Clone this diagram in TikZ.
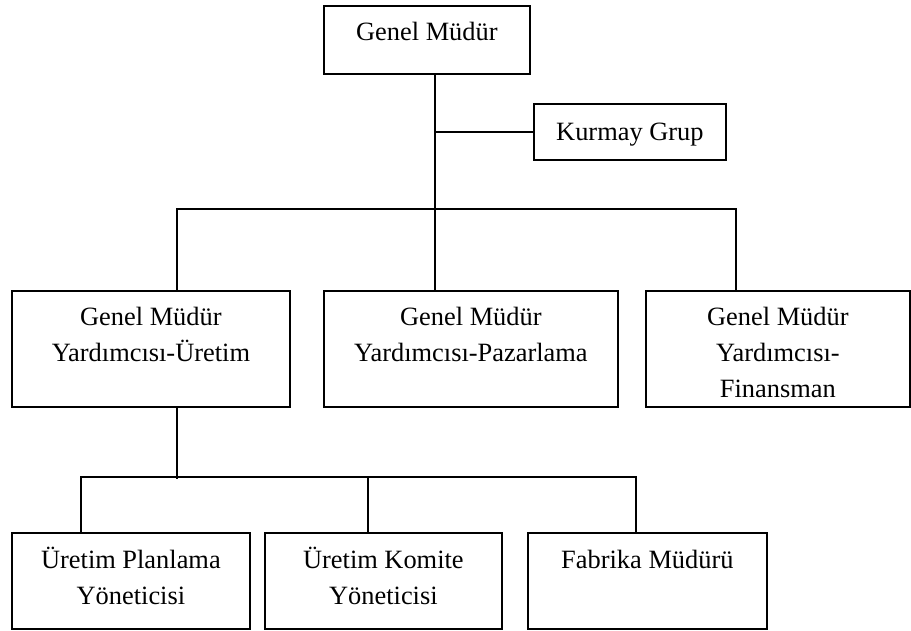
\documentclass[tikz,border=0pt]{standalone}
\usepackage{fontspec}
\setmainfont{Liberation Serif}
% centred block of lines whose baseline is that of its first line
\newcommand{\boxtext}[1]{\parbox[t]{300pt}{\centering #1}}
\begin{document}
\begin{tikzpicture}[x=1pt,y=-1pt,
  unit/.style={draw=black, line width=1.8pt, inner sep=0pt, anchor=north west},
  lbl/.style={inner sep=0pt, anchor=base, font=\fontsize{26.4pt}{36pt}\selectfont},
  link/.style={draw=black, line width=1.8pt}]
\useasboundingbox (0,0) rectangle (911,630);

% top level
\node[unit, minimum width=206pt, minimum height=68pt] (gm) at (323,5) {};
\node[lbl] (gmT) at ([yshift=-35pt]gm.north) {\boxtext{Genel Müdür}};
\node[unit, minimum width=192pt, minimum height=56pt] (kg) at (533,103) {};
\node[lbl] (kgT) at ([yshift=-37pt]kg.north) {\boxtext{Kurmay Grup}};

% deputy general managers
\node[unit, minimum width=278pt, minimum height=116pt] (b1) at (11,290) {};
\node[lbl] (b1T) at ([yshift=-35pt]b1.north) {\boxtext{Genel Müdür\\Yardımcısı-Üretim}};
\node[unit, minimum width=294pt, minimum height=116pt] (b2) at (323,290) {};
\node[lbl] (b2T) at ([yshift=-35pt]b2.north) {\boxtext{Genel Müdür\\Yardımcısı-Pazarlama}};
\node[unit, minimum width=264pt, minimum height=116pt] (b3) at (645,290) {};
\node[lbl] (b3T) at ([yshift=-35pt]b3.north) {\boxtext{Genel Müdür\\Yardımcısı-\\Finansman}};

% production units
\node[unit, minimum width=238pt, minimum height=96pt] (c1) at (11,532) {};
\node[lbl] (c1T) at ([yshift=-36pt]c1.north) {\boxtext{Üretim Planlama\\Yöneticisi}};
\node[unit, minimum width=237pt, minimum height=96pt] (c2) at (264,532) {};
\node[lbl] (c2T) at ([yshift=-36pt]c2.north) {\boxtext{Üretim Komite\\Yöneticisi}};
\node[unit, minimum width=239pt, minimum height=96pt] (c3) at (527,532) {};
\node[lbl] (c3T) at ([yshift=-36pt]c3.north) {\boxtext{Fabrika Müdürü}};

% connector points
\coordinate (trunk) at (435,209);
\coordinate (busL) at (177,209);
\coordinate (busR) at (736,209);
\coordinate (stem) at (177,479);
\coordinate (lowL) at (81,477);
\coordinate (lowM) at (368,477);
\coordinate (lowR) at (636,477);

% upper connectors
\draw[link] (gm.south -| trunk) -- (b2.north -| trunk);
\draw[link] (trunk |- kg.west) -- (kg.west);
\draw[link] (b1.north -| busL) -- (busL) -- (busR) -- (b3.north -| busR);

% lower connectors
\draw[link] (b1.south -| stem) -- (stem);
\draw[link] (c1.north -| lowL) -- (lowL) -- (lowR) -- (c3.north -| lowR);
\draw[link] (lowM) -- (c2.north -| lowM);
\end{tikzpicture}
\end{document}
